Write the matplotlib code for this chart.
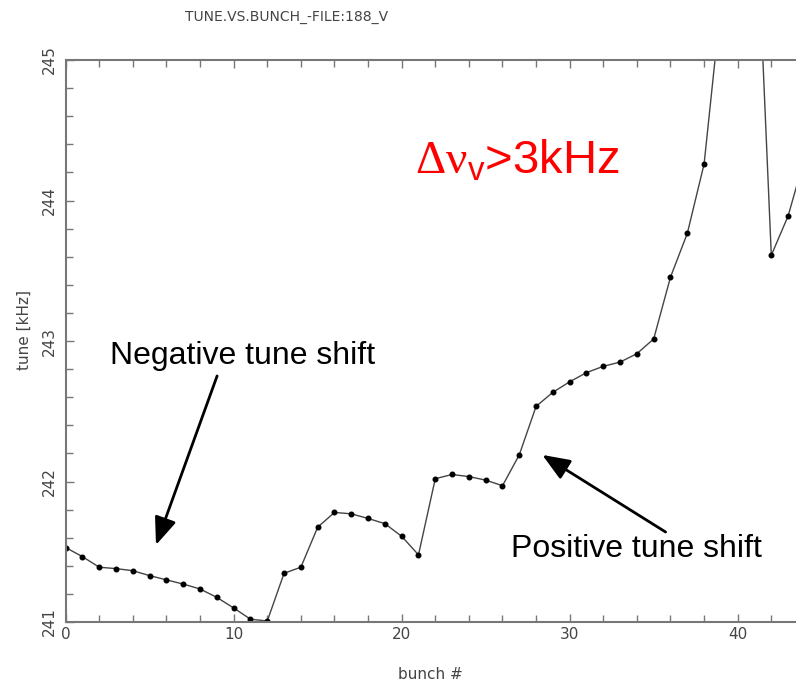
import matplotlib
matplotlib.use("Agg")
import matplotlib.pyplot as plt
from matplotlib.ticker import MultipleLocator

# tune per bunch (39-41 run off the top of the plot)
bunch = list(range(45))
tune = [241.53, 241.465, 241.39, 241.38, 241.365, 241.33, 241.30, 241.27, 241.235, 241.175,
        241.10, 241.02, 241.007, 241.347, 241.39, 241.675, 241.78, 241.77, 241.737, 241.70,
        241.61, 241.478, 242.02, 242.05, 242.035, 242.01, 241.97, 242.19, 242.535, 242.635,
        242.71, 242.775, 242.82, 242.85, 242.91, 243.015, 243.455, 243.766, 244.26, 245.4,
        246.8, 246.39, 243.61, 243.89, 244.31]

plt.rcParams["mathtext.fontset"] = "custom"
plt.rcParams["mathtext.rm"] = "Liberation Serif"
plt.rcParams["mathtext.sf"] = "Liberation Sans"

fig = plt.figure(figsize=(7.96, 6.83), dpi=100)
ax = fig.add_axes([0.0825, 0.0893, 0.9175, 0.8228])
ax.plot(bunch, tune, color="#444444", lw=1.0, marker="o", ms=3.3,
        mfc="black", mec="black")
ax.set_xlim(0, 43.47)
ax.set_ylim(241, 245)

ax.xaxis.set_major_locator(MultipleLocator(10))
ax.xaxis.set_minor_locator(MultipleLocator(2))
ax.yaxis.set_major_locator(MultipleLocator(1))
ax.yaxis.set_minor_locator(MultipleLocator(0.2))
ax.tick_params(which="both", direction="in", top=True, right=False,
               color="#777777", width=1.0, labelsize=11, labelcolor="#444444")
ax.tick_params(which="major", length=6)
ax.tick_params(which="minor", length=5)
ax.tick_params(axis="y", pad=6)
for lab in ax.get_yticklabels():
    lab.set_rotation(90)
    lab.set_va("center")
for s in ["left", "bottom", "top"]:
    ax.spines[s].set_color("#777777")
    ax.spines[s].set_linewidth(1.5)
ax.spines["right"].set_visible(False)

ax.set_xlabel("bunch #", fontsize=11, color="#444444")
ax.set_ylabel("tune [kHz]", fontsize=11, color="#444444")
ax.xaxis.set_label_coords(0.5, -0.08)
ax.yaxis.set_label_coords(-0.047, 0.52)
fig.text(0.36, 0.975, "TUNE.VS.BUNCH_-FILE:188_V", ha="center", va="center",
         fontsize=10, color="#444444")

arrow = dict(arrowstyle="-|>,head_length=0.6,head_width=0.24",
             mutation_scale=28, lw=2, color="black")
ax.annotate("", xy=(5.32, 241.53), xytext=(9.07, 242.77), arrowprops=arrow)
ax.text(10.5, 242.89, "Negative tune shift", ha="center", va="center",
        fontsize=23, family="Liberation Sans")
ax.annotate("", xy=(28.23, 242.20), xytext=(35.85, 241.63), arrowprops=arrow)
ax.text(34.0, 241.52, "Positive tune shift", ha="center", va="center",
        fontsize=23, family="Liberation Sans")

ax.text(20.8, 244.28, r"$\mathrm{\Delta\nu}_{\mathsf{v}}$>3kHz", ha="left", va="center",
        fontsize=34, color="red", family="Liberation Sans")

fig.savefig("out.png", dpi=100)
